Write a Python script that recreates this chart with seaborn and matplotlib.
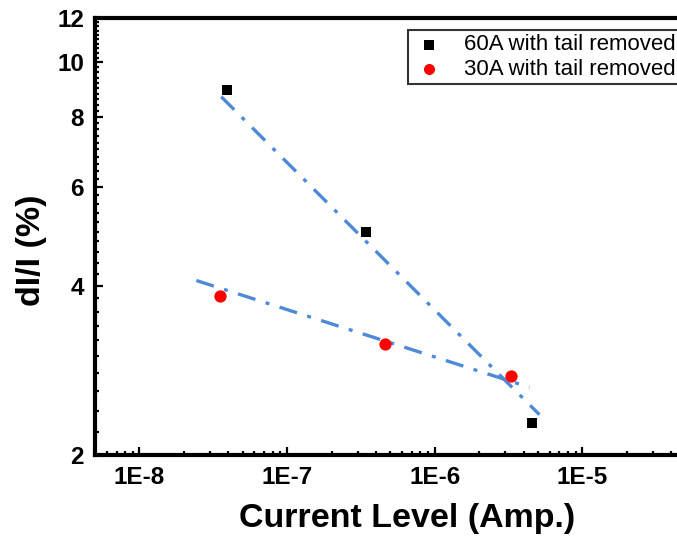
import numpy as np
import pandas as pd
import matplotlib
matplotlib.use("Agg")
import matplotlib.pyplot as plt
from matplotlib.ticker import FixedLocator, LogLocator, NullFormatter, FixedFormatter
import seaborn as sns

# ---- data ----
x_60A = [3.93e-8, 3.42e-7, 4.59e-6]
y_60A = [8.95, 4.99, 2.28]
x_30A = [3.53e-8, 4.59e-7, 3.31e-6]
y_30A = [3.84, 3.15, 2.76]

# fitted (dash-dot) trend lines, end points
fit60_x = [3.58e-8, 5.12e-6]
fit60_y = [8.69, 2.36]
fit30_x = [2.43e-8, 4.38e-6]
fit30_y = [4.09, 2.64]

labels = ["60A with tail removed", "30A with tail removed"]
y_ticks = [2, 4, 6, 8, 10, 12]
x_ticks = [1e-8, 1e-7, 1e-6, 1e-5]
x_ticklabels = ["1E-8", "1E-7", "1E-6", "1E-5"]

sns.set_theme(style="ticks")
plt.rcParams["font.family"] = ["Liberation Sans", "DejaVu Sans"]
plt.rcParams["text.color"] = "black"
plt.rcParams["axes.labelcolor"] = "black"
plt.rcParams["xtick.color"] = "black"
plt.rcParams["ytick.color"] = "black"

W, H = 677, 537
fig = plt.figure(figsize=(W / 100, H / 100), dpi=100)
left_px, right_px, top_px, bottom_px = 95, 730, 18, 455
ax = fig.add_axes([left_px / W, 1 - bottom_px / H,
                   (right_px - left_px) / W, (bottom_px - top_px) / H])

fit_color = "#4f8ad6"
dash = (0, (5.5, 3.2, 1.2, 3.2))
df60f = pd.DataFrame({"x": fit60_x, "y": fit60_y})
df30f = pd.DataFrame({"x": fit30_x, "y": fit30_y})
sns.lineplot(data=df60f, x="x", y="y", ax=ax, color=fit_color, lw=2.4,
             linestyle=dash, legend=False, zorder=2)
sns.lineplot(data=df30f, x="x", y="y", ax=ax, color=fit_color, lw=2.4,
             linestyle=dash, legend=False, zorder=2)

df60 = pd.DataFrame({"x": x_60A, "y": y_60A})
df30 = pd.DataFrame({"x": x_30A, "y": y_30A})
sns.scatterplot(data=df60, x="x", y="y", ax=ax, marker="s", color="black",
                s=62, linewidth=0, label=labels[0], zorder=3)
sns.scatterplot(data=df30, x="x", y="y", ax=ax, marker="o", color="#ff0000",
                s=78, linewidth=0, label=labels[1], zorder=3)

ax.set_xscale("log")
ax.set_yscale("log")
ax.set_xlim(5e-9, 1e-4)
ax.set_ylim(2, 12)

ax.xaxis.set_major_locator(FixedLocator(x_ticks))
ax.xaxis.set_major_formatter(FixedFormatter(x_ticklabels))
ax.xaxis.set_minor_locator(LogLocator(base=10, subs=np.arange(2, 10), numticks=20))
ax.xaxis.set_minor_formatter(NullFormatter())
ax.yaxis.set_major_locator(FixedLocator(y_ticks))
ax.yaxis.set_major_formatter(FixedFormatter([str(t) for t in y_ticks]))
ax.yaxis.set_minor_locator(FixedLocator(np.arange(2.2, 12, 0.2)))
ax.yaxis.set_minor_formatter(NullFormatter())

for s in ["left", "bottom", "top"]:
    ax.spines[s].set_linewidth(3)
    ax.spines[s].set_color("black")
ax.spines["right"].set_visible(False)

ax.tick_params(axis="both", which="major", direction="in", length=6, width=1.6,
               color="black", labelcolor="black", labelsize=17.5, pad=8)
ax.tick_params(axis="both", which="minor", direction="in", length=3.2, width=1.6,
               color="black")
ax.tick_params(top=False, right=False, which="both")
for lab in ax.get_xticklabels() + ax.get_yticklabels():
    lab.set_fontweight("bold")

ax.set_xlabel("Current Level (Amp.)", fontsize=24.5, fontweight="bold", color="black")
ax.set_ylabel("dI/I (%)", fontsize=24.5, fontweight="bold", color="black")
ax.xaxis.set_label_coords((407 - left_px) / (right_px - left_px), -0.11)
ax.yaxis.set_label_coords((47 - left_px) / (right_px - left_px),
                          (bottom_px - 250) / (bottom_px - top_px))

leg = ax.legend(loc="upper left", bbox_to_anchor=(408 / W, 1 - 30 / H),
                bbox_transform=fig.transFigure, frameon=True, fancybox=False,
                edgecolor="black", fontsize=16, handletextpad=0.8,
                borderpad=0.2, labelspacing=0.15, handlelength=1.5,
                markerscale=0.9, borderaxespad=0)
leg.get_frame().set_linewidth(1.5)
for t in leg.get_texts():
    t.set_color("black")

ax.grid(False)
fig.savefig("out.png", dpi=100)
